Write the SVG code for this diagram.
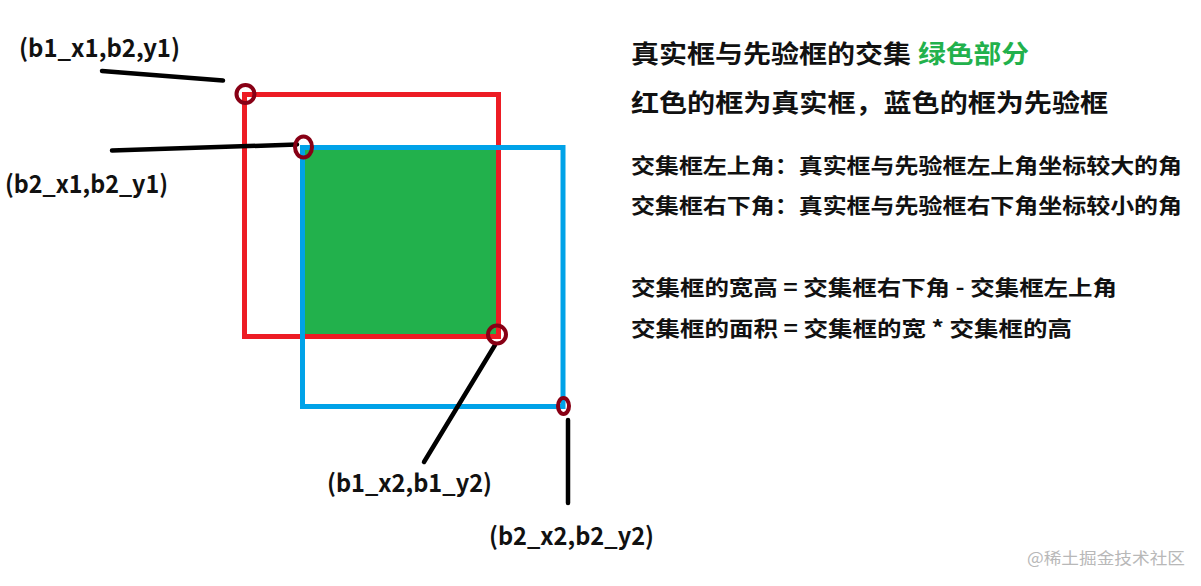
<svg xmlns="http://www.w3.org/2000/svg" width="1201" height="586" viewBox="0 0 1201 586">
<style>
.lbl{font-family:"Noto Sans CJK SC","Liberation Sans",sans-serif;font-weight:bold;font-size:24.5px;fill:#111}
.t1{font-family:"Noto Sans CJK SC",sans-serif;font-weight:bold;font-size:24.5px;fill:#111}
.t2{font-family:"Noto Sans CJK SC",sans-serif;font-weight:bold;font-size:21px;fill:#111}
.wm{font-family:"Noto Sans CJK SC",sans-serif;font-size:16px;fill:#b8b8b8}
.lead{stroke:#000;stroke-width:4.5;stroke-linecap:round;fill:none}
.mark{fill:none;stroke:#880015;stroke-width:4}
</style>
<rect width="1201" height="586" fill="#fff"/>
<g id="intersection">
<rect x="302.5" y="147.5" width="196" height="189" fill="#22b14c"/>
</g>
<g id="truth-box">
<rect x="244.5" y="94.5" width="254" height="242" fill="none" stroke="#ed1c24" stroke-width="5"/>
</g>
<g id="prior-box">
<rect x="302.5" y="147.5" width="260.5" height="259" fill="none" stroke="#00a2e8" stroke-width="5"/>
</g>
<g id="connectors">
<line class="lead" x1="102" y1="71" x2="223" y2="80.5"/>
<line class="lead" x1="112" y1="150.5" x2="297" y2="144.5"/>
<line class="lead" x1="495" y1="345" x2="424" y2="462"/>
<line class="lead" x1="568" y1="420" x2="568" y2="503"/>
</g>
<g id="corner-marks">
<circle class="mark" cx="245.5" cy="94" r="9"/>
<ellipse class="mark" cx="303.5" cy="147" rx="8.5" ry="10.5"/>
<circle class="mark" cx="497" cy="334.5" r="9"/>
<ellipse class="mark" cx="563.5" cy="406" rx="5.5" ry="8"/>
</g>
<g id="label-b1-tl"><text class="lbl" x="19" y="57" textLength="161" lengthAdjust="spacingAndGlyphs">(b1_x1,b2,y1)</text></g>
<g id="label-b2-tl"><text class="lbl" x="5" y="193" textLength="163" lengthAdjust="spacingAndGlyphs">(b2_x1,b2_y1)</text></g>
<g id="label-b1-br"><text class="lbl" x="327" y="492" textLength="165" lengthAdjust="spacingAndGlyphs">(b1_x2,b1_y2)</text></g>
<g id="label-b2-br"><text class="lbl" x="489" y="545" textLength="165" lengthAdjust="spacingAndGlyphs">(b2_x2,b2_y2)</text></g>
<g id="notes">
<text class="t1" x="631" y="63" textLength="280" lengthAdjust="spacingAndGlyphs">真实框与先验框的交集</text>
<text class="t1" x="918" y="63" textLength="111" lengthAdjust="spacingAndGlyphs" style="fill:#22b14c">绿色部分</text>
<text class="t1" x="631" y="112" textLength="477" lengthAdjust="spacingAndGlyphs">红色的框为真实框，蓝色的框为先验框</text>
<text class="t2" x="631" y="173" textLength="551" lengthAdjust="spacingAndGlyphs">交集框左上角：真实框与先验框左上角坐标较大的角</text>
<text class="t2" x="631" y="213" textLength="551" lengthAdjust="spacingAndGlyphs">交集框右下角：真实框与先验框右下角坐标较小的角</text>
<text class="t2" x="631" y="295" textLength="486" lengthAdjust="spacingAndGlyphs">交集框的宽高 = 交集框右下角 - 交集框左上角</text>
<text class="t2" x="631" y="336" textLength="441" lengthAdjust="spacingAndGlyphs">交集框的面积 = 交集框的宽 * 交集框的高</text>
</g>
<g id="watermark"><text class="wm" x="1027" y="564" textLength="158" lengthAdjust="spacingAndGlyphs">@稀土掘金技术社区</text></g>
</svg>
